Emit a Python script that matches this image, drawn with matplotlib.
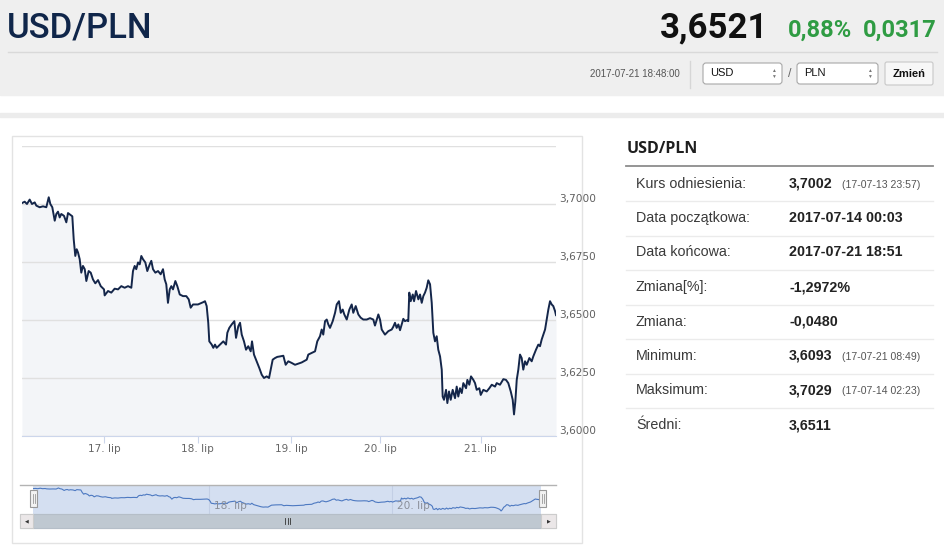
import matplotlib.pyplot as plt
import matplotlib.transforms as mtransforms
from matplotlib.patches import Rectangle, FancyBboxPatch

# ---- data ----
pair = "USD/PLN"
last_rate = "3,6521"
change_pct = "0,88%"
change_abs = "0,0317"
quote_time = "2017-07-21 18:48:00"
base_cur = "USD"
quote_cur = "PLN"
button_text = "Zmień"

# ordinal time position in days (weekend skipped, 14 Jul 00:03 = 0)
t_pos = [
    0.000, 0.029, 0.053, 0.082, 0.107, 0.136, 0.153, 0.189, 0.225, 0.260,
    0.286, 0.303, 0.324, 0.350, 0.367, 0.385, 0.403, 0.420, 0.449, 0.474,
    0.492, 0.521, 0.538, 0.553, 0.570, 0.585, 0.599, 0.617, 0.634, 0.652,
    0.671, 0.688, 0.713, 0.735, 0.759, 0.784, 0.813, 0.842, 0.877, 0.884,
    0.920, 0.955, 0.991, 1.027, 1.062, 1.098, 1.134, 1.169, 1.187, 1.205,
    1.222, 1.241, 1.259, 1.276, 1.294, 1.319, 1.340, 1.366, 1.383, 1.401,
    1.426, 1.455, 1.483, 1.508, 1.526, 1.543, 1.561, 1.580, 1.597, 1.615,
    1.640, 1.661, 1.687, 1.722, 1.757, 1.783, 1.804, 1.829, 1.882,
    1.939, 1.957, 1.975, 1.992, 2.003, 2.029, 2.046, 2.064, 2.082, 2.118,
    2.153, 2.182, 2.196, 2.217, 2.243, 2.271, 2.289, 2.313, 2.332, 2.350,
    2.374, 2.396, 2.420, 2.446, 2.460, 2.481, 2.510, 2.538, 2.564, 2.588,
    2.617, 2.642, 2.663, 2.681, 2.706, 2.730, 2.759, 2.795, 2.820, 2.848,
    2.884, 2.920, 2.955, 2.991, 3.045, 3.062, 3.098, 3.134, 3.158, 3.187,
    3.205, 3.222, 3.241, 3.259, 3.276, 3.294, 3.323, 3.348, 3.366, 3.390,
    3.409, 3.430, 3.447, 3.473, 3.501, 3.526, 3.543, 3.569, 3.597, 3.622,
    3.650, 3.687, 3.722,
    3.757, 3.775, 3.811, 3.829, 3.847, 3.882, 3.918, 3.954, 3.971, 3.989,
    4.007, 4.025, 4.043, 4.061, 4.078, 4.096, 4.114, 4.131, 4.142, 4.157,
    4.179, 4.193, 4.214, 4.239, 4.257, 4.275, 4.292, 4.310, 4.328, 4.345,
    4.364, 4.382, 4.399, 4.417, 4.435, 4.452, 4.471, 4.489, 4.499, 4.513,
    4.535, 4.549, 4.567, 4.585, 4.606, 4.631, 4.649, 4.666, 4.684, 4.703,
    4.720, 4.749, 4.763, 4.784, 4.802, 4.827, 4.845, 4.863, 4.891, 4.906,
    4.934, 4.970, 4.998, 5.024, 5.059, 5.077, 5.112, 5.148, 5.176, 5.201,
    5.227, 5.248, 5.262, 5.276, 5.291, 5.308, 5.326, 5.344, 5.361, 5.380,
    5.398, 5.426, 5.451, 5.468, 5.497, 5.522, 5.540, 5.558, 5.575, 5.594,
    5.612, 5.629, 5.647, 5.665, 5.682, 5.701, 5.711,
]
usd_pln = [
    3.7004, 3.7010, 3.7000, 3.7019, 3.7000, 3.7007, 3.6993, 3.6986, 3.6990, 3.6986,
    3.7029, 3.7000, 3.6986, 3.6928, 3.6957, 3.6967, 3.6942, 3.6957, 3.6949, 3.6921,
    3.6961, 3.6952, 3.6947, 3.6848, 3.6776, 3.6805, 3.6791, 3.6762, 3.6704, 3.6733,
    3.6719, 3.6668, 3.6711, 3.6704, 3.6675, 3.6658, 3.6672, 3.6646, 3.6632, 3.6606,
    3.6625, 3.6618, 3.6635, 3.6632, 3.6646, 3.6639, 3.6646, 3.6639, 3.6711, 3.6733,
    3.6719, 3.6748, 3.6740, 3.6776, 3.6762, 3.6748, 3.6711, 3.6740, 3.6755, 3.6719,
    3.6704, 3.6711, 3.6697, 3.6719, 3.6675, 3.6654, 3.6574, 3.6632, 3.6646, 3.6632,
    3.6668, 3.6646, 3.6610, 3.6603, 3.6603, 3.6589, 3.6553, 3.6567, 3.6567,
    3.6577, 3.6581, 3.6560, 3.6488, 3.6408, 3.6394, 3.6380, 3.6394, 3.6380, 3.6394,
    3.6408, 3.6394, 3.6445, 3.6466, 3.6481, 3.6495, 3.6423, 3.6473, 3.6488, 3.6437,
    3.6408, 3.6372, 3.6387, 3.6365, 3.6408, 3.6351, 3.6322, 3.6293, 3.6264, 3.6250,
    3.6257, 3.6250, 3.6293, 3.6329, 3.6336, 3.6341, 3.6343, 3.6346, 3.6307, 3.6322,
    3.6315, 3.6307, 3.6312, 3.6317, 3.6329, 3.6351, 3.6358, 3.6365, 3.6408, 3.6430,
    3.6459, 3.6437, 3.6495, 3.6502, 3.6481, 3.6466, 3.6495, 3.6531, 3.6567, 3.6581,
    3.6531, 3.6545, 3.6524, 3.6502, 3.6545, 3.6567, 3.6531, 3.6560, 3.6524, 3.6510,
    3.6502, 3.6502, 3.6508,
    3.6502, 3.6476, 3.6524, 3.6502, 3.6459, 3.6437, 3.6452, 3.6459, 3.6471, 3.6488,
    3.6466, 3.6481, 3.6456, 3.6481, 3.6505, 3.6495, 3.6499, 3.6495, 3.6618, 3.6581,
    3.6610, 3.6581, 3.6625, 3.6589, 3.6610, 3.6574, 3.6603, 3.6618, 3.6639, 3.6671,
    3.6654, 3.6574, 3.6445, 3.6408, 3.6430, 3.6372, 3.6343, 3.6286, 3.6170, 3.6156,
    3.6199, 3.6142, 3.6192, 3.6156, 3.6199, 3.6163, 3.6213, 3.6170, 3.6206, 3.6185,
    3.6228, 3.6206, 3.6242, 3.6221, 3.6257, 3.6242, 3.6228, 3.6199, 3.6206, 3.6177,
    3.6199, 3.6192, 3.6206, 3.6221, 3.6213, 3.6228, 3.6221, 3.6245, 3.6242, 3.6228,
    3.6192, 3.6156, 3.6093, 3.6148, 3.6242, 3.6286, 3.6351, 3.6336, 3.6286, 3.6322,
    3.6307, 3.6336, 3.6322, 3.6343, 3.6372, 3.6394, 3.6387, 3.6416, 3.6437, 3.6459,
    3.6502, 3.6545, 3.6581, 3.6567, 3.6560, 3.6538, 3.6521,
]

tick_pos = [0.880, 1.879, 2.877, 3.829, 4.906]
tick_labels = ["17. lip", "18. lip", "19. lip", "20. lip", "21. lip"]
nav_tick_pos = [1.98, 4.04]
nav_tick_labels = ["18. lip", "20. lip"]
y_levels = [3.600, 3.625, 3.650, 3.675, 3.700, 3.725]
y_labels = ["3,6000", "3,6250", "3,6500", "3,6750", "3,7000", ""]

stat_names = ["Kurs odniesienia:", "Data początkowa:", "Data końcowa:", "Zmiana[%]:",
              "Zmiana:", "Minimum:", "Maksimum:", "Średni:"]
stat_values = ["3,7002", "2017-07-14 00:03", "2017-07-21 18:51", "-1,2972%",
               "-0,0480", "3,6093", "3,7029", "3,6511"]
stat_notes = ["(17-07-13 23:57)", "", "", "", "", "(17-07-21 08:49)", "(17-07-14 02:23)", ""]

W, H = 945, 545
plt.rcParams['font.family'] = ['Liberation Sans', 'DejaVu Sans']
fig = plt.figure(figsize=(W / 100, H / 100), dpi=100)


def px_axes(x0, y0, x1, y1, **kw):
    return fig.add_axes([x0 / W, 1 - y1 / H, (x1 - x0) / W, (y1 - y0) / H], **kw)


def page_axes(z):
    a = fig.add_axes([0, 0, 1, 1], zorder=z)
    a.set_xlim(0, W)
    a.set_ylim(H, 0)
    a.axis('off')
    a.patch.set_alpha(0)
    return a


bg = page_axes(0)

# header
bg.add_patch(Rectangle((0, 0), W, 95, color='#efefef'))
bg.plot([8, 937], [52, 52], color='#d9d9d9', lw=1)
bg.text(7, 37, pair, fontsize=25, family='Roboto', fontweight='medium', color='#10264a', va='baseline')
bg.text(768, 37, last_rate, fontsize=25, family='Roboto', fontweight='bold', color='#111111',
        ha='right', va='baseline')
bg.text(852, 37, change_pct, fontsize=17, family='Roboto', fontweight='bold', color='#2f9c43',
        ha='right', va='baseline')
bg.text(937, 37, change_abs, fontsize=17, family='Roboto', fontweight='bold', color='#2f9c43',
        ha='right', va='baseline')

bg.text(680, 74, quote_time, fontsize=7, color='#555555', ha='right', va='center')
bg.plot([690, 690], [61, 88], color='#d6d6d6', lw=1)
for x0, x1, cur in [(703, 782, base_cur), (797, 878, quote_cur)]:
    bg.add_patch(FancyBboxPatch((x0, 63), x1 - x0, 21, boxstyle='round,pad=0,rounding_size=3',
                                fc='white', ec='#a8a8a8', lw=0.8))
    bg.text(x0 + 7, 73.5, cur, fontsize=8, color='#111111', va='center')
    bg.text(x1 - 9, 70.5, '▲', fontsize=3.5, color='#777777', ha='center', va='center')
    bg.text(x1 - 9, 76.5, '▼', fontsize=3.5, color='#777777', ha='center', va='center')
bg.text(789.5, 74, '/', fontsize=9, color='#666666', ha='center', va='center')
bg.add_patch(FancyBboxPatch((885, 62), 48, 23, boxstyle='round,pad=0,rounding_size=2',
                            fc='#f7f7f7', ec='#c8c8c8', lw=0.8))
bg.text(909, 74, button_text, fontsize=8, fontweight='bold', color='#111111', ha='center', va='center')

bg.add_patch(Rectangle((0, 113), W, 4, color='#ececec'))

# chart panel frame
bg.add_patch(Rectangle((12, 136), 570, 407, fill=False, ec='#e3e3e3', lw=1))

# main chart
ax = px_axes(22, 146, 556, 436, zorder=2)
ax.patch.set_alpha(0)
ax.fill_between(t_pos, usd_pln, y_levels[0], color='#f3f5f8', lw=0)
ax.plot(t_pos, usd_pln, color='#14264a', lw=1.4)
ax.set_xlim(t_pos[0], t_pos[-1])
ax.set_ylim(y_levels[0], y_levels[-1])
for s in ['top', 'left', 'right']:
    ax.spines[s].set_visible(False)
ax.spines['bottom'].set_color('#ccd6eb')
ax.yaxis.tick_right()
ax.set_yticks(y_levels, y_labels)
ax.yaxis.grid(True, color='#e0e0e0', lw=1)
ax.tick_params(axis='y', length=0, pad=2.2, labelsize=7.6, labelcolor='#606060')
for lbl in ax.get_yticklabels():
    lbl.set_va('bottom')
    lbl.set_family('DejaVu Sans')
ax.set_xticks(tick_pos, tick_labels, family='DejaVu Sans')
ax.tick_params(axis='x', length=5, width=0.8, color='#ccd6eb', pad=1, labelsize=7.6,
               labelcolor='#666666')

# navigator
nav = px_axes(33, 485, 541, 514, zorder=2)
nav.set_facecolor('#d4dff1')
for p in nav_tick_pos:
    nav.axvline(p, color='#c3cfe5', lw=0.8)
trans = mtransforms.blended_transform_factory(nav.transData, nav.transAxes)
for p, lab in zip(nav_tick_pos, nav_tick_labels):
    nav.text(p + 0.05, 0.27, lab, transform=trans, fontsize=7.6, family='DejaVu Sans',
             color='#8a8f99', va='center')
nav.plot(t_pos, usd_pln, color='#4d79c1', lw=0.8)
nav.set_xlim(t_pos[0], t_pos[-1])
nav.set_ylim(3.597, 3.715)
nav.set_xticks([])
nav.set_yticks([])
for s in nav.spines.values():
    s.set_visible(False)

fg = page_axes(5)
fg.plot([20, 556], [485, 485], color='#b3b3b3', lw=1)
# scrollbar
fg.add_patch(Rectangle((20, 514), 536, 14, fc='#f2f2f2', ec='#d0d0d0', lw=0.8))
fg.add_patch(Rectangle((33, 514), 508, 14, fc='#bfc8d1', ec='#b5bec8', lw=0.8))
fg.add_patch(Rectangle((20, 514), 13, 14, fc='#ebe7e8', ec='#cccccc', lw=0.8))
fg.add_patch(Rectangle((541, 514), 15, 14, fc='#ebe7e8', ec='#cccccc', lw=0.8))
fg.text(26.5, 521, '◀', fontsize=3.5, color='#333333', ha='center', va='center')
fg.text(548.5, 521, '▶', fontsize=3.5, color='#333333', ha='center', va='center')
for gx in [285, 287.5, 290]:
    fg.plot([gx, gx], [518, 524], color='#333333', lw=0.6)
# navigator handles
for hx in [30, 539]:
    fg.add_patch(Rectangle((hx, 490), 7, 17, fc='#f2f2f2', ec='#999999', lw=0.8))
    for lx in [hx + 2.5, hx + 4.5]:
        fg.plot([lx, lx], [494, 503], color='#999999', lw=0.6)

# stats table
bg.text(627, 149, pair, fontsize=11.5, family='Open Sans', fontweight='bold', color='#1e1e1e',
        va='center')
bg.plot([626, 933], [166, 166], color='#8c8c8c', lw=1.3)
for i, (name, val, note) in enumerate(zip(stat_names, stat_values, stat_notes)):
    yy = 183.5 + i * 34.5
    bg.text(636, yy, name, fontsize=10.3, color='#3a3a3a', va='center')
    bg.text(789, yy, val, fontsize=10.3, fontweight='bold', color='#222222', va='center')
    if note:
        bg.text(842, yy + 1, note, fontsize=7.6, color='#555555', va='center')
    if i < len(stat_names) - 1:
        bg.plot([626, 933], [yy + 17.5, yy + 17.5], color='#ebebeb', lw=1)

fig.savefig('out.png', dpi=100)
